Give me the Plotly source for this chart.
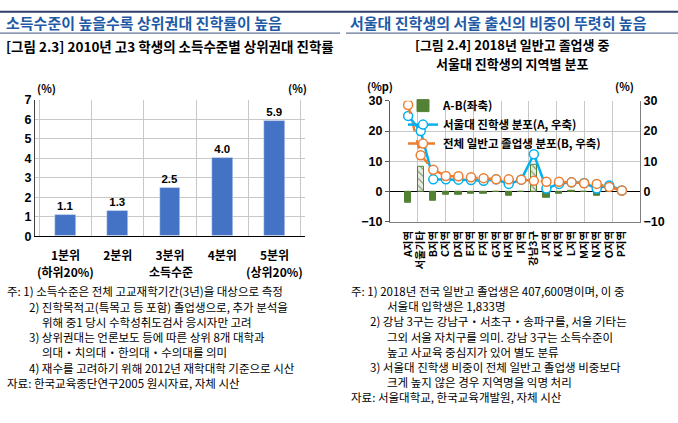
import plotly.graph_objects as go

# ---- data ----
income_levels = ["1분위", "2분위", "3분위", "4분위", "5분위"]
income_sublabels = {"1분위": "(하위20%)", "5분위": "(상위20%)"}
top_univ_rate = [1.1, 1.3, 2.5, 4.0, 5.9]

regions = ["A지역", "서울기타", "B지역", "C지역", "D지역", "E지역", "F지역", "G지역", "H지역",
           "I지역", "강남3구", "J지역", "K지역", "L지역", "M지역", "N지역", "O지역", "P지역"]
snu_share = [25.0, 20.0, 4.0, 4.0, 3.9, 3.8, 3.5, 4.0, 2.5, 3.9, 12.3, 1.0, 2.5, 3.0, 2.8, 1.0, 2.0, 0.3]
grad_share = [28.6, 12.0, 7.2, 5.1, 5.0, 4.7, 4.4, 4.0, 4.0, 3.9, 3.5, 3.2, 3.2, 3.0, 2.7, 2.5, 1.5, 0.3]
diff = [-3.6, 8.0, -3.2, -1.1, -1.1, -0.9, -0.9, 0.0, -1.5, 0.0, 8.8, -2.2, -0.7, 0.3, 0.0, -1.5, 0.5, 0.0]
hatched = ["서울기타", "강남3구"]

left_notes = [
    (5, "주: 1) 소득수준은 전체 고교재학기간(3년)을 대상으로 측정"),
    (27, "2) 진학목적고(특목고 등 포함) 졸업생으로, 추가 분석을"),
    (40, "위해 중1 당시 수학성취도검사 응시자만 고려"),
    (27, "3) 상위권대는 언론보도 등에 따른 상위 8개 대학과"),
    (40, "의대・치의대・한의대・수의대를 의미"),
    (27, "4) 재수를 고려하기 위해 2012년 재학대학 기준으로 시산"),
    (5, "자료: 한국교육종단연구2005 원시자료, 자체 시산"),
]
right_notes = [
    (349, "주: 1) 2018년 전국 일반고 졸업생은 407,600명이며, 이 중"),
    (385, "서울대 입학생은 1,833명"),
    (368, "2) 강남 3구는 강남구・서초구・송파구를, 서울 기타는"),
    (385, "그외 서울 자치구를 의미. 강남 3구는 소득수준이"),
    (385, "높고 사교육 중심지가 있어 별도 분류"),
    (368, "3) 서울대 진학생 비중이 전체 일반고 졸업생 비중보다"),
    (385, "크게 높지 않은 경우 지역명을 익명 처리"),
    (349, "자료: 서울대학교, 한국교육개발원, 자체 시산"),
]

W, H = 678, 423
KR = "Noto Sans CJK KR"
NUM = "Liberation Sans, Noto Sans CJK KR"
GRID = "#c8c8c8"


def px(x):
    return x / W


def py(y):
    return 1 - y / H


fig = go.Figure()

# left chart
fig.add_trace(go.Bar(
    x=income_levels, y=top_univ_rate, xaxis="x", yaxis="y",
    marker=dict(color="#4472c4"), width=0.4,
    text=[f"{v:.1f}" for v in top_univ_rate], textposition="outside",
    textfont=dict(family=NUM, size=11.5, color="black", weight="bold"),
    cliponaxis=False, showlegend=False,
))

# right chart
bar_colors = ["#e4eedb" if r in hatched else "#548235" for r in regions]
bar_shapes = ["\\" if r in hatched else "" for r in regions]
fig.add_trace(go.Bar(
    x=regions, y=diff, xaxis="x2", yaxis="y3", name="A-B(좌축)",
    marker=dict(color=bar_colors, line=dict(color="#548235", width=1),
                pattern=dict(shape=bar_shapes, fgcolor="#548235", size=5, solidity=0.25)),
    width=0.5,
))
fig.add_trace(go.Scatter(
    x=regions, y=snu_share, xaxis="x2", yaxis="y4", name="서울대 진학생 분포(A, 우축)",
    mode="lines+markers", line=dict(color="#00b0f0", width=2.5),
    marker=dict(symbol="circle", size=9, color="white", line=dict(color="#00b0f0", width=1.5)),
))
fig.add_trace(go.Scatter(
    x=regions, y=grad_share, xaxis="x2", yaxis="y4", name="전체 일반고 졸업생 분포(B, 우축)",
    mode="lines+markers", line=dict(color="#ed7d31", width=2.5, dash="dash"),
    marker=dict(symbol="circle", size=9, color="white", line=dict(color="#ed7d31", width=1.5)),
))
# helper trace for the every-second-category grid
fig.add_trace(go.Scatter(x=[], y=[], xaxis="x3", yaxis="y3", showlegend=False, hoverinfo="skip"))

tickfont = dict(family=NUM, size=12.5, color="black", weight="bold")
catfont = dict(family=KR, size=12, color="black", weight="bold")

fig.update_layout(
    width=W, height=H,
    margin=dict(l=0, r=0, t=0, b=0),
    paper_bgcolor="white", plot_bgcolor="white",
    font=dict(family=KR, color="black"),
    bargap=0,
    xaxis=dict(domain=[px(35), px(305)], anchor="y", type="category", tickangle=0,
               tickson="boundaries", showgrid=True, gridcolor=GRID, gridwidth=1,
               showline=True, linecolor="black", linewidth=1, ticks="", ticklabelstandoff=8,
               tickfont=catfont),
    yaxis=dict(domain=[py(237), py(96)], anchor="x", range=[0, 7], dtick=1,
               showgrid=True, gridcolor=GRID, showline=True, linecolor="#404040",
               zeroline=False, ticks="", tickfont=tickfont),
    yaxis2=dict(domain=[py(237), py(96)], anchor="x", overlaying="y", side="right",
                range=[0, 7], dtick=1, showgrid=False, showline=True, linecolor="#404040",
                zeroline=False, ticks="", tickfont=tickfont),
    xaxis2=dict(domain=[px(390), px(640)], anchor="y3", type="category",
                tickmode="array", tickvals=regions, ticktext=regions,
                showgrid=False, showline=True, linecolor="#7f7f7f", ticks="", ticklabelstandoff=4,
                tickangle=-90, tickfont=dict(family=KR, size=10.5, color="black", weight="bold")),
    xaxis3=dict(domain=[px(390), px(640)], anchor="y3", overlaying="x2", range=[-0.5, 17.5],
                tickvals=[1.5, 3.5, 5.5, 7.5, 9.5, 11.5, 13.5, 15.5], showticklabels=False,
                showgrid=True, gridcolor=GRID, showline=False, ticks="", zeroline=False),
    yaxis3=dict(domain=[py(222), py(97)], anchor="x2", range=[-10, 30], dtick=10,
                showgrid=True, gridcolor=GRID, showline=True, linecolor="#595959",
                zeroline=True, zerolinecolor="black", zerolinewidth=1.2,
                ticks="outside", ticklen=4, tickcolor="#595959", tickfont=tickfont),
    yaxis4=dict(domain=[py(222), py(97)], anchor="x2", overlaying="y3", side="right",
                range=[-10, 30], dtick=10, showgrid=False, showline=True, linecolor="#7f7f7f",
                zeroline=False, ticks="", tickfont=tickfont),
    legend=dict(x=px(403), y=py(87), xanchor="left", yanchor="top",
                bgcolor="rgba(0,0,0,0)", itemwidth=30, tracegroupgap=0,
                font=dict(family=KR, size=11.5, color="black", weight="bold")),
)

# header lines
fig.add_shape(type="line", xref="paper", yref="paper", x0=0, x1=1, y0=py(5), y1=py(5),
              line=dict(color="#2f3e6b", width=2))
fig.add_shape(type="line", xref="paper", yref="paper", x0=0, x1=px(340), y0=py(27), y1=py(27),
              line=dict(color="#3c4f7e", width=1))
fig.add_shape(type="line", xref="paper", yref="paper", x0=px(346), x1=1, y0=py(27), y1=py(27),
              line=dict(color="#3c4f7e", width=1))


def note(x, y, text, size=11.5, bold=False, color="black", xanchor="left"):
    fig.add_annotation(x=px(x), y=py(y), xref="paper", yref="paper", text=text,
                       showarrow=False, xanchor=xanchor, yanchor="middle",
                       font=dict(family=KR, size=size, color=color,
                                 weight="bold" if bold else "normal"))


note(4, 16, "소득수준이 높을수록 상위권대 진학률이 높음", size=15, bold=True, color="#1f5aa6")
note(348, 16, "서울대 진학생의 서울 출신의 비중이 뚜렷히 높음", size=15, bold=True, color="#1f5aa6")
note(4, 40, "[그림 2.3] 2010년 고3 학생의 소득수준별 상위권대 진학률", size=13.5, bold=True)
note(512, 39, "[그림 2.4] 2018년 일반고 졸업생 중", size=13, bold=True, xanchor="center")
note(512, 58, "서울대 진학생의 지역별 분포", size=13, bold=True, xanchor="center")

# unit labels
note(46, 84, "(%)", size=11, bold=True, xanchor="center")
note(297, 84, "(%)", size=11, bold=True, xanchor="center")
note(380, 82, "(%p)", size=11, bold=True, xanchor="center")
note(624, 82, "(%)", size=11, bold=True, xanchor="center")

# second line under the first and last quintile, and the axis title in the middle
for cat, sub in income_sublabels.items():
    fig.add_annotation(x=cat, xref="x", y=py(274), yref="paper", text=sub, showarrow=False,
                       yanchor="middle", font=catfont)
note(171, 274, "소득수준", size=12, bold=True, xanchor="center")

for i, (x, t) in enumerate(left_notes):
    note(x, 294 + i * 15.8, t)
for i, (x, t) in enumerate(right_notes):
    note(x, 294 + i * 15.6, t)

# the page body has a default 8px margin; drop it so the figure sits at the window corner
fig.write_html("out.html", config={"displayModeBar": False},
               post_script="document.body.style.margin='0';")
